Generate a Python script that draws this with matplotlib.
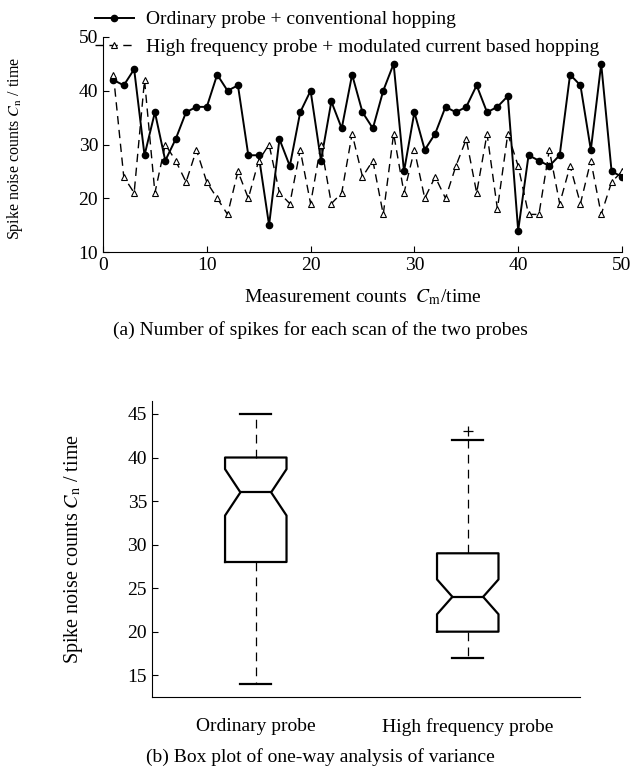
import numpy as np
import matplotlib
matplotlib.use('Agg')
import matplotlib.pyplot as plt

plt.rcParams['font.family'] = ['Liberation Serif', 'DejaVu Serif']
plt.rcParams['mathtext.fontset'] = 'stix'

# data
scan = list(range(1, 51))
ordinary = [42, 41, 44, 28, 36, 27, 31, 36, 37, 37,
            43, 40, 41, 28, 28, 15, 31, 26, 36, 40,
            27, 38, 33, 43, 36, 33, 40, 45, 25, 36,
            29, 32, 37, 36, 37, 41, 36, 37, 39, 14,
            28, 27, 26, 28, 43, 41, 29, 45, 25, 24]
high_freq = [43, 24, 21, 42, 21, 30, 27, 23, 29, 23,
             20, 17, 25, 20, 27, 30, 21, 19, 29, 19,
             30, 19, 21, 32, 24, 27, 17, 32, 21, 29,
             20, 24, 20, 26, 31, 21, 32, 18, 32, 26,
             17, 17, 29, 19, 26, 19, 27, 17, 23, 25]
series_labels = ['Ordinary probe + conventional hopping',
                 'High frequency probe + modulated current based hopping']
box_labels = ['Ordinary probe', 'High frequency probe']

fs = 14
ylab = r'Spike noise counts $C_{\mathrm{n}}$ / time'

fig = plt.figure(figsize=(6.41, 7.67), dpi=100)

# (a) line chart
ax1 = fig.add_axes([0.1607, 0.6714, 0.8096, 0.2804])
l1, = ax1.plot(scan, ordinary, color='black', lw=1.4, marker='o', ms=4.5,
               mfc='black', mec='black')
l2, = ax1.plot(scan, high_freq, color='black', lw=1.0, ls=(0, (6, 4)),
               marker='^', ms=5, mfc='white', mec='black', mew=0.8)
ax1.set_xlim(0, 50)
ax1.set_ylim(10, 50)
ax1.set_xticks([0, 10, 20, 30, 40, 50])
ax1.set_yticks([10, 20, 30, 40, 50])
ax1.tick_params(direction='in', length=4, labelsize=fs, width=0.8)
for s in ['top', 'right']:
    ax1.spines[s].set_visible(False)
ax1.set_xlabel(r'Measurement counts  $C_{\mathrm{m}}$/time', fontsize=fs, labelpad=10)
ax1.set_ylabel(ylab, fontsize=11.5)
ax1.yaxis.set_label_coords(-0.15, 0.48)

fig.legend([l1, l2], series_labels, loc='upper left', bbox_to_anchor=(0.136, 0.996),
           frameon=False, fontsize=fs, handlelength=2.0, handletextpad=0.6,
           labelspacing=0.5, borderaxespad=0)

fig.text(0.5, 0.57, '(a) Number of spikes for each scan of the two probes',
         ha='center', va='center', fontsize=fs)

# (b) notched box plot
ax2 = fig.add_axes([0.237, 0.0913, 0.668, 0.386])
bp = ax2.boxplot([ordinary, high_freq], notch=True, widths=0.29,
                 boxprops=dict(color='black', lw=1.6),
                 medianprops=dict(color='black', lw=1.6),
                 whiskerprops=dict(color='black', lw=0.9, ls=(0, (7, 5))),
                 capprops=dict(color='black', lw=1.6),
                 flierprops=dict(marker='+', markeredgecolor='black', markersize=7, mew=0.9))
ax2.set_xlim(0.51, 2.53)
ax2.set_ylim(12.5, 46.5)
ax2.set_yticks([15, 20, 25, 30, 35, 40, 45])
ax2.set_xticks([1, 2])
ax2.set_xticklabels(box_labels)
ax2.tick_params(axis='y', direction='in', length=4, labelsize=fs, width=0.8)
ax2.tick_params(axis='x', length=0, labelsize=fs, pad=15)
for s in ['top', 'right']:
    ax2.spines[s].set_visible(False)
ax2.set_ylabel(ylab, fontsize=14.5)
ax2.yaxis.set_label_coords(-0.157, 0.5)

fig.text(0.5, 0.013, '(b) Box plot of one-way analysis of variance',
         ha='center', va='center', fontsize=fs)

fig.savefig('out.png', dpi=100)
